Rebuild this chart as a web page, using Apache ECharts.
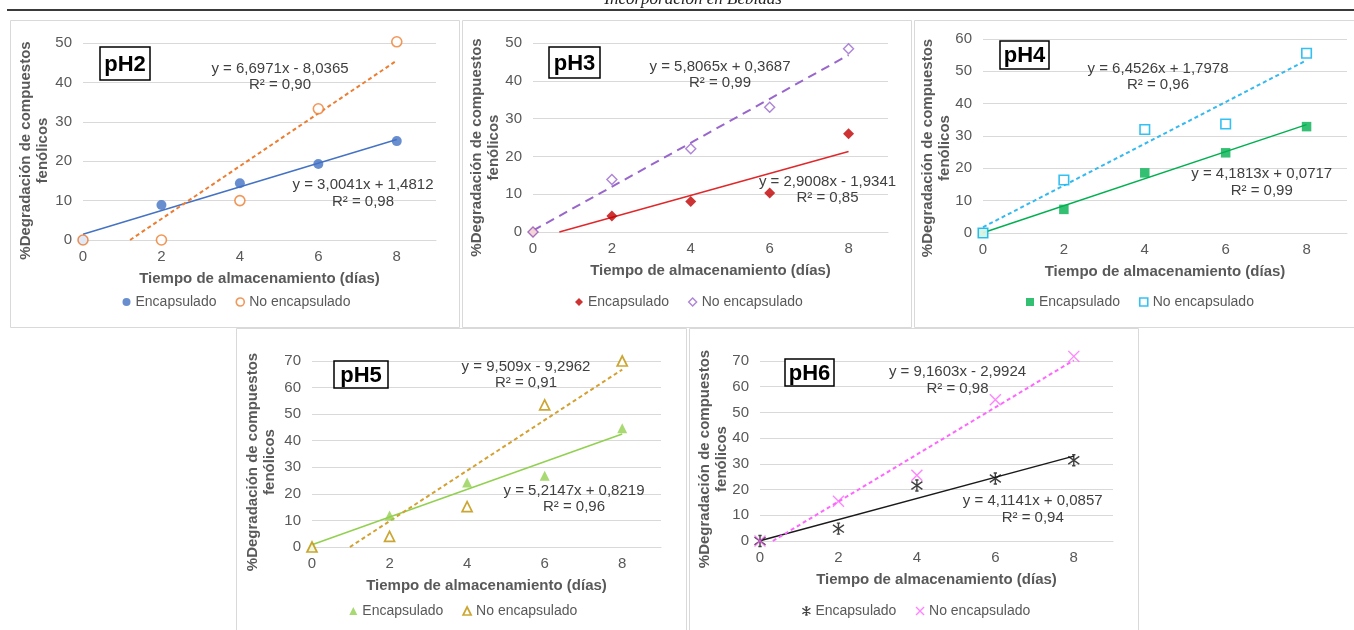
<!DOCTYPE html>
<html>
<head>
<meta charset="utf-8">
<script src="https://cdn.jsdelivr.net/npm/echarts@6/dist/echarts.min.js"></script>
<style>
html,body{margin:0;padding:0;background:#fff;}
#c{width:1354px;height:630px;}
</style>
</head>
<body>
<div id="c"></div>
<script>
// ---------------- DATA ----------------
const headerTitle = 'Incorporación en Bebidas';
const panelLabels = ['pH2', 'pH3', 'pH4', 'pH5', 'pH6'];
const days = [0, 2, 4, 6, 8];
const xTickLabels = [0, 2, 4, 6, 8];
const yMaxes = [50, 50, 60, 70, 70];
const seriesNames = ['Encapsulado', 'No encapsulado'];
const xAxisTitle = 'Tiempo de almacenamiento (días)';
const yAxisTitle = '%Degradación de compuestos\nfenólicos';

const encPH2 = [0, 8.9, 14.4, 19.3, 25.1];
const noPH2  = [0, 0, 10.0, 33.3, 50.3];
const encPH3 = [0, 4.2, 8.1, 10.3, 26.0];
const noPH3  = [0, 13.9, 22.0, 33.0, 48.5];
const encPH4 = [0, 7.3, 18.6, 24.8, 32.9];
const noPH4  = [0, 16.4, 32.0, 33.7, 55.6];
const encPH5 = [0, 11.9, 24.3, 26.8, 44.7];
const noPH5  = [0, 4.0, 15.2, 53.5, 70.0];
const encPH6 = [0, 4.8, 21.6, 24.3, 31.4];
const noPH6  = [0, 15.5, 25.6, 54.9, 71.8];

// trendline coefficients (as printed on the chart)
const slopeEnc = [3.0041, 2.9008, 4.1813, 5.2147, 4.1141];
const interEnc = [1.4812, -1.9341, 0.0717, 0.8219, 0.0857];
const slopeNo  = [6.6971, 5.8065, 6.4526, 9.509, 9.1603];
const interNo  = [-8.0365, 0.3687, 1.7978, -9.2962, -2.9924];

const eqEnc = ['y = 3,0041x + 1,4812', 'y = 2,9008x - 1,9341', 'y = 4,1813x + 0,0717', 'y = 5,2147x + 0,8219', 'y = 4,1141x + 0,0857'];
const r2Enc = ['R² = 0,98', 'R² = 0,85', 'R² = 0,99', 'R² = 0,96', 'R² = 0,94'];
const eqNo  = ['y = 6,6971x - 8,0365', 'y = 5,8065x + 0,3687', 'y = 6,4526x + 1,7978', 'y = 9,509x - 9,2962', 'y = 9,1603x - 2,9924'];
const r2No  = ['R² = 0,90', 'R² = 0,99', 'R² = 0,96', 'R² = 0,91', 'R² = 0,98'];

const encData = [encPH2, encPH3, encPH4, encPH5, encPH6];
const noData  = [noPH2, noPH3, noPH4, noPH5, noPH6];

// ---------------- LAYOUT / STYLE ----------------
const FONT = '"Liberation Sans", Arial, sans-serif';
const GRAY = '#595959';
const panels = [
  {x: 10, y: 20, w: 449, h: 307},
  {x: 462, y: 20, w: 449, h: 307},
  {x: 914, y: 20, w: 445, h: 307},
  {x: 236, y: 328, w: 450, h: 320},
  {x: 689, y: 328, w: 449, h: 320}
];
const grids = [
  {left: 83, top: 43, width: 353, height: 197},
  {left: 533, top: 43, width: 355, height: 189},
  {left: 983, top: 39, width: 364, height: 194},
  {left: 312, top: 361, width: 349, height: 186},
  {left: 760, top: 361, width: 353, height: 180}
];
const yNameShift = [9, 10, 12, 8, 8];
const yNameGap = [32, 31, 30, 34, 30];
const boxes = [
  {x: 100, y: 47, w: 50, h: 33},
  {x: 549, y: 47, w: 51, h: 31},
  {x: 1000, y: 41, w: 49, h: 28},
  {x: 334, y: 361, w: 54, h: 27},
  {x: 785, y: 359, w: 49, h: 27}
];
const eqNoPos  = [[280, 76.7], [720, 74.7], [1158, 76.7], [526, 375], [957.5, 380.3]];
const eqEncPos = [[363, 193.3], [827.5, 189.7], [1261.7, 182.5], [574, 498.7], [1032.7, 509.3]];
const legendPos = [[122.5, 295], [575, 295], [1026, 295], [349.3, 604], [801.7, 604]];

const ASTER = 'path://M5,0L5,10M0,1.5L10,8.5M0,8.5L10,1.5M3.5,0L6.5,0M3.5,10L6.5,10';
const CROSS = 'path://M0,0L10,10M0,10L10,0';
const styles = [
  {enc: {symbol: 'circle', size: 10, item: {color: '#4472C4'}},
   no:  {symbol: 'circle', size: 10, item: {color: '#fff', borderColor: '#ED7D31', borderWidth: 1.6}},
   encLine: {color: '#4472C4', width: 1.5, type: 'solid'},
   noLine:  {color: '#ED7D31', width: 2, type: [4, 3]}},
  {enc: {symbol: 'diamond', size: 11, item: {color: '#C00000'}},
   no:  {symbol: 'diamond', size: 10, item: {color: '#fff', borderColor: '#9966CC', borderWidth: 1.4}},
   encLine: {color: '#E0282B', width: 1.5, type: 'solid'},
   noLine:  {color: '#9966CC', width: 2, type: [9, 6]}},
  {enc: {symbol: 'rect', size: 9.5, item: {color: '#00B050'}},
   no:  {symbol: 'rect', size: 9.5, item: {color: '#fff', borderColor: '#00B0F0', borderWidth: 1.6}},
   encLine: {color: '#00B050', width: 1.5, type: 'solid'},
   noLine:  {color: '#33B9F0', width: 2, type: [4, 3]}},
  {enc: {symbol: 'triangle', size: 10, item: {color: '#92D050'}},
   no:  {symbol: 'triangle', size: 10, item: {color: '#fff', borderColor: '#BF9000', borderWidth: 1.7}},
   encLine: {color: '#92D050', width: 1.5, type: 'solid'},
   noLine:  {color: '#D4A030', width: 2, type: [4, 3]}},
  {enc: {symbol: ASTER, size: 11, item: {color: 'rgba(0,0,0,0)', borderColor: '#111', borderWidth: 1.4}},
   no:  {symbol: CROSS, size: 11, item: {color: 'rgba(0,0,0,0)', borderColor: '#FF66FF', borderWidth: 1.4}},
   encLine: {color: '#1a1a1a', width: 1.5, type: 'solid'},
   noLine:  {color: '#FF66FF', width: 2, type: [4, 3]}}
];

function trend(a, b) {
  const xs = Math.max(0, -b / a);
  return [[xs, a * xs + b], [days[days.length - 1], a * days[days.length - 1] + b]];
}

const option = {
  animation: false,
  backgroundColor: '#fff',
  grid: [], xAxis: [], yAxis: [], series: [], legend: [], graphic: []
};

option.graphic.push({type: 'text', z: 10, style: {text: headerTitle, x: 693, y: 8, textAlign: 'center', textVerticalAlign: 'bottom', font: 'italic 17px "Liberation Serif", "Times New Roman", serif', fill: '#222'}});
option.graphic.push({type: 'line', z: 10, shape: {x1: 7, y1: 10, x2: 1354, y2: 10}, style: {stroke: '#3a3a3a', lineWidth: 2}});

for (let i = 0; i < 5; i++) {
  const p = panels[i];
  option.graphic.push({type: 'rect', z: -10, shape: {x: p.x + 0.5, y: p.y + 0.5, width: p.w, height: p.h}, style: {fill: 'none', stroke: '#D9D9D9', lineWidth: 1}});
  const g = grids[i];
  option.grid.push(Object.assign({containLabel: false, outerBoundsMode: 'none'}, g));
  option.xAxis.push({
    type: 'value', gridIndex: i, min: 0, max: 9, interval: 2,
    name: xAxisTitle, nameLocation: 'middle', nameGap: 31, nameMoveOverlap: false,
    nameTextStyle: {fontFamily: FONT, fontSize: 15, fontWeight: 'bold', color: GRAY},
    axisLine: {show: true, onZero: false, lineStyle: {color: '#D9D9D9', width: 1}},
    axisTick: {show: false},
    splitLine: {show: false},
    axisLabel: {show: true, showMaxLabel: false, margin: 9, fontFamily: FONT, fontSize: 15, color: GRAY,
      formatter: v => (xTickLabels.indexOf(v) >= 0 ? String(v) : '')}
  });
  option.yAxis.push({
    type: 'value', gridIndex: i, min: 0, max: yMaxes[i], interval: 10,
    name: yAxisTitle, nameLocation: 'middle', nameRotate: 90, nameGap: yNameGap[i], nameMoveOverlap: false,
    nameTextStyle: {fontFamily: FONT, fontSize: 15, fontWeight: 'bold', color: GRAY, lineHeight: 17, padding: [0, yNameShift[i] * 2, 0, 0]},
    axisLine: {show: false}, axisTick: {show: false},
    splitLine: {show: true, lineStyle: {color: '#D9D9D9', width: 1}},
    axisLabel: {margin: 11, fontFamily: FONT, fontSize: 15, color: GRAY}
  });
  const st = styles[i];
  const encName = panelLabels[i] + '|' + seriesNames[0];
  const noName = panelLabels[i] + '|' + seriesNames[1];
  option.series.push({
    type: 'line', xAxisIndex: i, yAxisIndex: i, data: trend(slopeEnc[i], interEnc[i]),
    symbol: 'none', silent: true, clip: false, z: 2,
    lineStyle: {color: st.encLine.color, width: st.encLine.width, type: st.encLine.type}
  });
  option.series.push({
    type: 'line', xAxisIndex: i, yAxisIndex: i, data: trend(slopeNo[i], interNo[i]),
    symbol: 'none', silent: true, clip: false, z: 2,
    lineStyle: {color: st.noLine.color, width: st.noLine.width, type: st.noLine.type}
  });
  option.series.push({
    type: 'scatter', name: encName, xAxisIndex: i, yAxisIndex: i, clip: false, z: 3,
    data: days.map((d, k) => [d, encData[i][k]]),
    symbol: st.enc.symbol, symbolSize: st.enc.size, itemStyle: st.enc.item
  });
  option.series.push({
    type: 'scatter', name: noName, xAxisIndex: i, yAxisIndex: i, clip: false, z: 4,
    data: days.map((d, k) => [d, noData[i][k]]),
    symbol: st.no.symbol, symbolSize: st.no.size, itemStyle: st.no.item
  });
  option.legend.push({
    left: legendPos[i][0], top: legendPos[i][1], orient: 'horizontal', padding: 0,
    itemWidth: 8, itemHeight: 8, itemGap: 19, selectedMode: false,
    textStyle: {fontFamily: FONT, fontSize: 14, color: GRAY},
    formatter: n => n.split('|')[1],
    data: [
      {name: encName, icon: st.enc.symbol, itemStyle: st.enc.item},
      {name: noName, icon: st.no.symbol, itemStyle: st.no.item}
    ]
  });
  const b = boxes[i];
  option.graphic.push({type: 'rect', z: 20, shape: {x: b.x, y: b.y, width: b.w, height: b.h}, style: {fill: '#fff', stroke: '#000', lineWidth: 1.5}});
  option.graphic.push({type: 'text', z: 21, style: {text: panelLabels[i], x: b.x + b.w / 2, y: b.y + b.h / 2 + 1, textAlign: 'center', textVerticalAlign: 'middle', font: 'bold 22px ' + FONT, fill: '#000'}});
  option.graphic.push({type: 'text', z: 20, style: {text: eqNo[i] + '\n' + r2No[i], x: eqNoPos[i][0], y: eqNoPos[i][1], textAlign: 'center', textVerticalAlign: 'middle', font: '15px ' + FONT, lineHeight: 16.5, fill: '#404040'}});
  option.graphic.push({type: 'text', z: 20, style: {text: eqEnc[i] + '\n' + r2Enc[i], x: eqEncPos[i][0], y: eqEncPos[i][1], textAlign: 'center', textVerticalAlign: 'middle', font: '15px ' + FONT, lineHeight: 16.5, fill: '#404040'}});
}

const chart = echarts.init(document.getElementById('c'), null, {renderer: 'canvas'});
chart.setOption(option);
</script>
</body>
</html>
